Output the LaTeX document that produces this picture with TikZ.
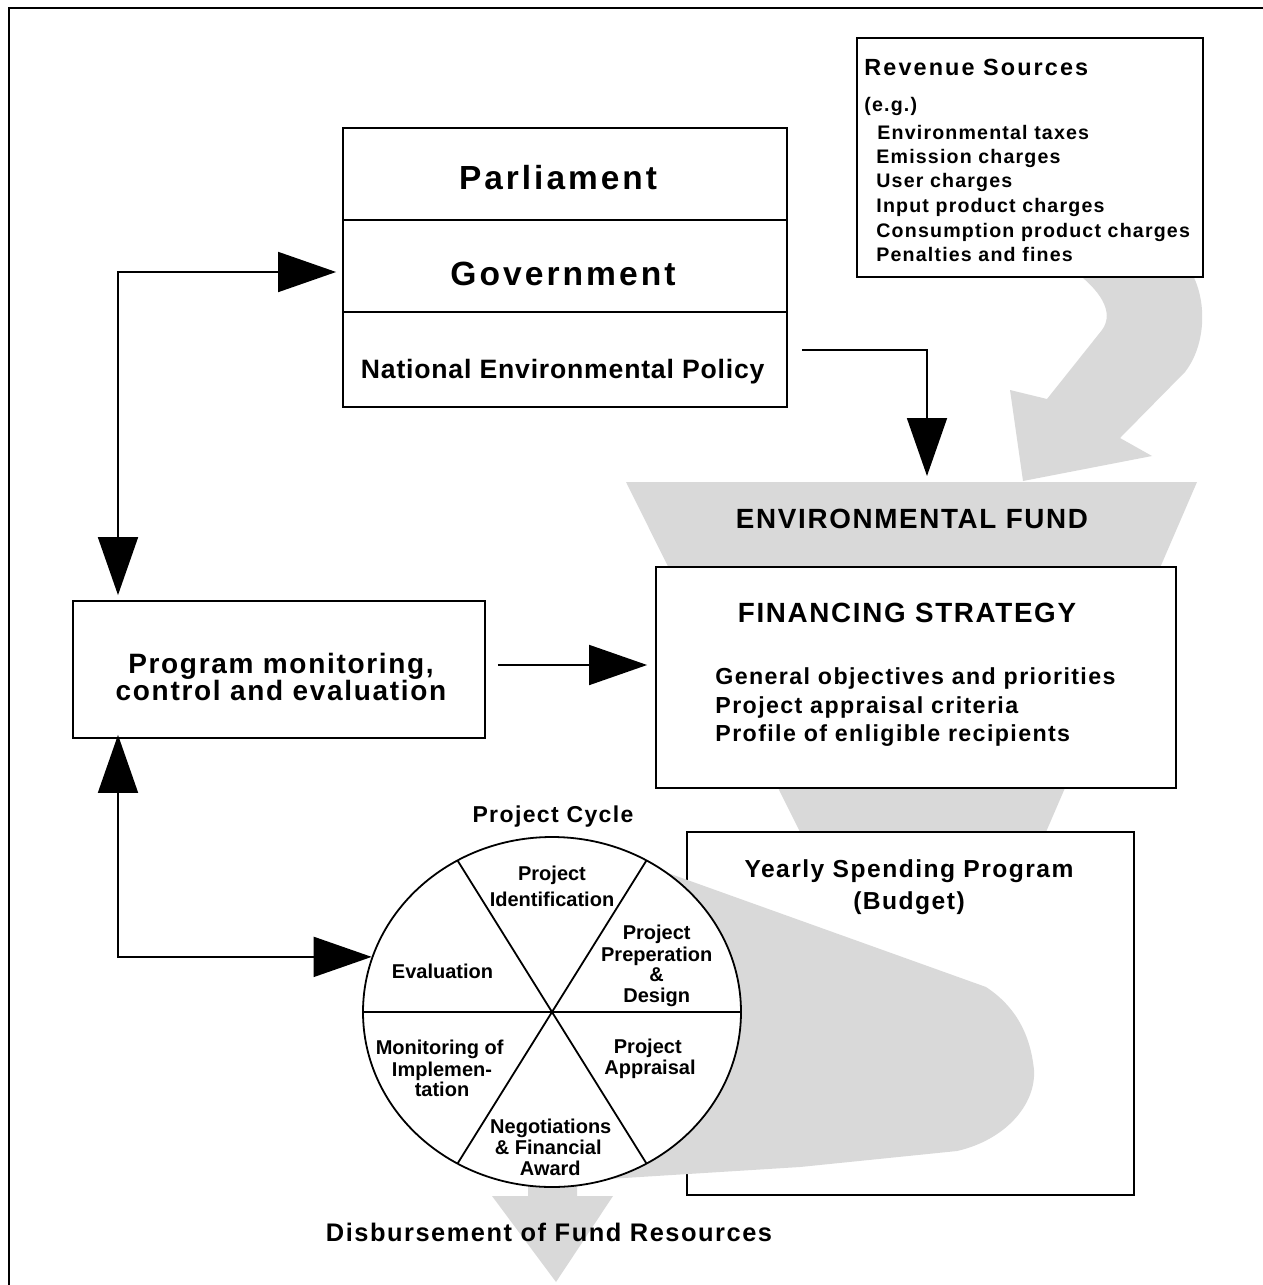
\documentclass[tikz,border=0pt]{standalone}
\usepackage{fontspec}
\setmainfont{Liberation Sans}[LetterSpace=6]
\newfontfamily\wideA{Liberation Sans}[LetterSpace=9]
\newfontfamily\narrowA{Liberation Sans}[LetterSpace=3]
\newfontfamily\cyclefont{Liberation Sans}
\usetikzlibrary{arrows.meta,shapes.geometric}
\definecolor{fundgray}{RGB}{217,217,217}
\newcommand{\sz}[2]{\fontsize{#1}{#2}\selectfont}

\begin{document}
\begin{tikzpicture}[x=0.5pt,y=-0.5pt,
  >={Triangle[length=29pt,width=20pt]},
  box/.style={draw,line width=0.9pt,fill=white,inner sep=0pt,rectangle},
  wire/.style={line width=0.9pt},
  flow/.style={fill=fundgray},
  t/.style={inner sep=0pt,anchor=base},
  tl/.style={inner sep=0pt,anchor=base west},
  ctext/.style={inner sep=0pt,anchor=base,font={\cyclefont\bfseries\sz{10pt}{10.5pt}}},
  revitem/.style={tl,font={\bfseries\sz{9.8pt}{12pt}}},
  fsitem/.style={tl,font={\bfseries\sz{11.6pt}{14pt}}}
]
\useasboundingbox (0,0) rectangle (1263,1285);

% outer frame (top and left edges)
\draw[line width=1pt] (9,1285) -- (9,8) -- (1263,8);

% funnel of the fund
\path[flow] (626,482) -- (1197,482) -- (1046,832) -- (800,832) -- cycle;

% curved arrow from the revenue sources into the fund
\path[flow] (1073,270) -- (1190,270)
  .. controls (1208,300) and (1206,345) .. (1185,372)
  -- (1120,438) -- (1152,456) -- (1023,481) -- (1010,390) -- (1047,399)
  -- (1102,330) .. controls (1115,312) and (1100,290) .. (1073,270) -- cycle;

% boxes
\node[box,minimum width=173pt,minimum height=119.5pt] (rev) at (1030,157.5) {};
\node[box,minimum width=222pt,minimum height=46pt] (parl) at (565,174) {};
\node[box,minimum width=222pt,minimum height=46pt] (gov) at (565,266) {};
\node[box,minimum width=222pt,minimum height=47.5pt] (nep) at (565,359.5) {};
\node[box,minimum width=206pt,minimum height=68.5pt] (prog) at (279,669.5) {};
\node[box,minimum width=260pt,minimum height=110.5pt] (fs) at (916,677.5) {};
\node[box,minimum width=223.5pt,minimum height=181.5pt] (yearly) at (910.5,1013.5) {};

% flow from the project cycle into the budget
\path[flow] (640,863) -- (986,987)
  .. controls (1012,1004) and (1030,1030) .. (1034,1070)
  .. controls (1036,1105) and (1005,1140) .. (957,1151)
  -- (800,1167) -- (560,1182) -- cycle;

% disbursement arrow
\path[flow] (528,1150) -- (577,1150) -- (577,1196) -- (613,1196)
  -- (556,1282) -- (492,1196) -- (528,1196) -- cycle;

% project cycle wheel
\node[draw,ellipse,line width=0.9pt,fill=white,inner sep=0pt,
  minimum width=189pt,minimum height=175pt] (cycle) at (552,1012) {};
\draw[line width=0.9pt] (363,1012) -- (741,1012)
  (646.5,860.4) -- (457.5,1163.6)
  (457.5,860.4) -- (646.5,1163.6);

% texts: revenue sources
\node[tl,font={\wideA\bfseries\sz{11.7pt}{14pt}}] (revhead) at (864,75) {Revenue Sources};
\node[revitem] (reveg) at (864,111.5) {(e.g.)};
\node[revitem] (rev1) at (877,139.3) {Environmental taxes};
\node[revitem] (rev2) at (876,163.3) {Emission charges};
\node[revitem] (rev3) at (876,187.7) {User charges};
\node[revitem] (rev4) at (876,212.7) {Input product charges};
\node[revitem] (rev5) at (876,237.3) {Consumption product charges};
\node[revitem] (rev6) at (876,261.7) {Penalties and fines};

% texts: parliament block
\node[t,font={\wideA\bfseries\sz{16.7pt}{20pt}}] (parltxt) at (558,189) {Parliament};
\node[t,font={\wideA\bfseries\sz{16.8pt}{20pt}}] (govtxt) at (563,285) {Government};
\node[t,font={\narrowA\bfseries\sz{13.3pt}{16pt}}] (neptxt) at (562.7,378) {National Environmental Policy};

% texts: fund and strategy
\node[t,font={\bfseries\sz{13.9pt}{16pt}}] (fund) at (912,528) {ENVIRONMENTAL FUND};
\node[t,font={\bfseries\sz{13.9pt}{16pt}}] (fshead) at (907,622.7) {FINANCING STRATEGY};
\node[fsitem] (fs1) at (715,684) {General objectives and priorities};
\node[fsitem] (fs2) at (715,713) {Project appraisal criteria};
\node[fsitem] (fs3) at (715,741.7) {Profile of enligible recipients};

% texts: monitoring
\node[t,font={\bfseries\sz{14pt}{16pt}}] (prog1) at (281,673.3) {Program monitoring,};
\node[t,font={\bfseries\sz{14pt}{16pt}}] (prog2) at (281,700) {control and evaluation};

% texts: budget
\node[t,font={\bfseries\sz{12.3pt}{15pt}}] (yearly1) at (909,877.7) {Yearly Spending Program};
\node[t,font={\bfseries\sz{12.3pt}{15pt}}] (yearly2) at (909,909.3) {(Budget)};

% texts: project cycle
\node[t,font={\bfseries\sz{11.5pt}{14pt}}] (cyclehead) at (553,822) {Project Cycle};
\node[ctext] (id1) at (552,880) {Project};
\node[ctext] (id2) at (552,906) {Identification};
\node[ctext] (pp1) at (656.7,939.3) {Project};
\node[ctext] (pp2) at (656.7,961.7) {Preperation};
\node[ctext] (pp3) at (656.7,981.7) {\&};
\node[ctext] (pp4) at (656.7,1002.7) {Design};
\node[ctext] (ev) at (442.5,978.3) {Evaluation};
\node[ctext] (mo1) at (439.7,1054.3) {Monitoring of};
\node[ctext] (mo2) at (442,1076) {Implemen-};
\node[ctext] (mo3) at (442,1096.7) {tation};
\node[ctext] (ap1) at (647.8,1053.3) {Project};
\node[ctext] (ap2) at (650,1074) {Appraisal};
\node[ctext] (ne1) at (550.8,1133.3) {Negotiations};
\node[ctext] (ne2) at (548.3,1154) {\& Financial};
\node[ctext] (ne3) at (550.3,1175.7) {Award};

% text: disbursement
\node[t,font={\bfseries\sz{12.7pt}{15pt}}] (disb) at (549,1241.7) {Disbursement of Fund Resources};

% connectors
\coordinate (vx) at (118,0);
\coordinate (ga) at (0,272);
\coordinate (ka) at (927,350);
\coordinate (fundin) at (927,476);
\coordinate (ma) at (0,665);

\draw[wire,<->,shorten <=2.5pt,shorten >=3pt]
  (prog.north -| vx) -- (vx |- ga) -- (gov.west |- ga);
\draw[wire,->] ([xshift=7pt]nep.east |- ka) -- (ka) -- (fundin);
\draw[wire,->,shorten >=4pt] ([xshift=6pt]prog.east |- ma) -- (fs.west |- ma);
\draw[wire,<->,shorten <=-2pt]
  (prog.south -| vx) -- (vx |- cycle.163) -- (cycle.163);
\end{tikzpicture}
\end{document}
